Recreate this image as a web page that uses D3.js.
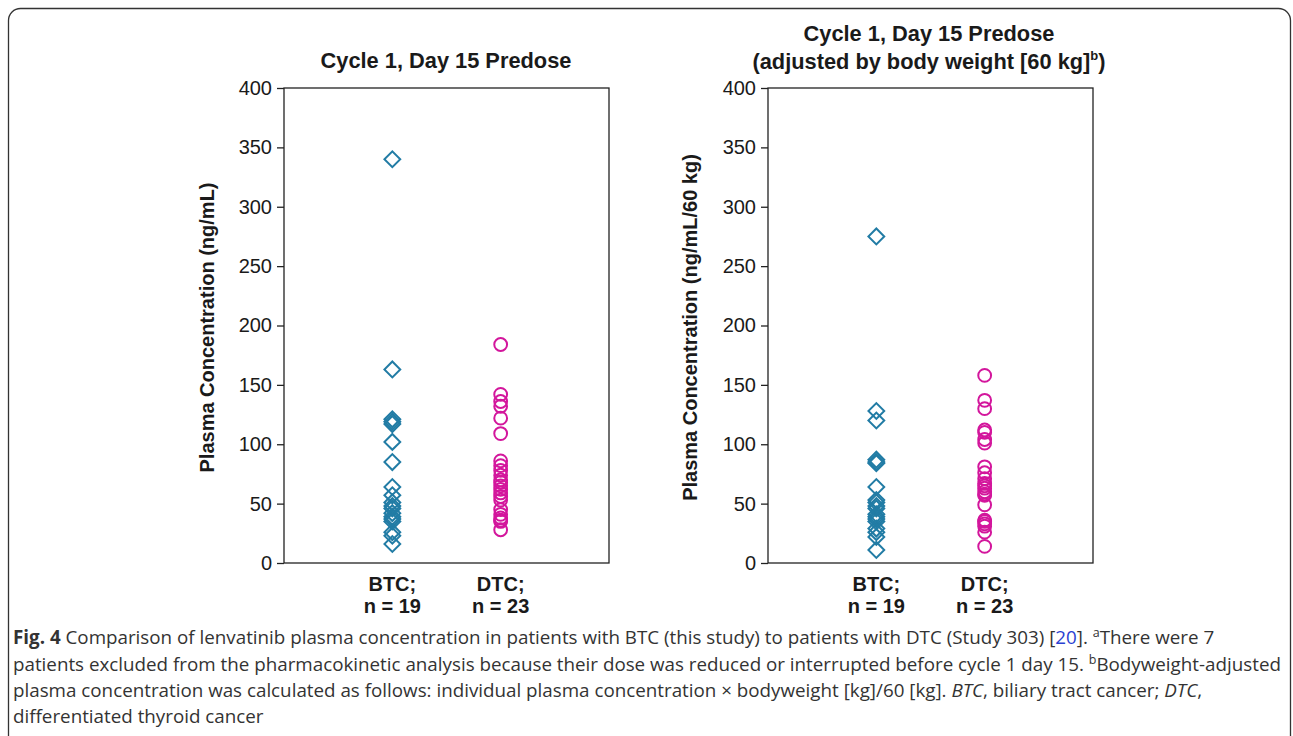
<!DOCTYPE html>
<html><head><meta charset="utf-8">
<script src="https://cdn.jsdelivr.net/npm/d3@7"></script>
<style>
body{margin:0;background:#fff;}
svg{display:block;}
</style></head>
<body>
<svg id="chart" width="1293" height="736"></svg>
<script>
const categories = ["BTC", "DTC"];
const categoryLine1 = ["BTC;", "DTC;"];
const categoryLine2 = ["n = 19", "n = 23"];
const yTicks = [0, 50, 100, 150, 200, 250, 300, 350, 400];

const btcRaw = [340, 163, 121, 119, 117, 102, 85, 64, 57, 51, 48, 46, 42, 39, 37, 35, 26, 23, 16];
const dtcRaw = [184, 142, 136, 132, 122, 109, 86, 82, 78, 74, 70, 68, 65, 62, 59, 56, 53, 45, 41, 38, 36, 35, 28];
const btcAdj = [275, 128, 120, 87, 85, 84, 64, 53, 51, 48, 46, 41, 39, 37, 35, 29, 26, 22, 11];
const dtcAdj = [158, 137, 130, 112, 110, 104, 101, 81, 76, 71, 67, 65, 63, 60, 58, 57, 49, 36, 35, 33, 31, 26, 14];

const titlesLeft = ["Cycle 1, Day 15 Predose"];
const yLabels = ["Plasma Concentration (ng/mL)", "Plasma Concentration (ng/mL/60 kg)"];

const svg = d3.select("#chart");
const blue = "#227ca5", pink = "#d3169c";
const tf = "Liberation Sans, Arial, sans-serif";

// outer rounded border
svg.append("rect").attr("x", 8.5).attr("y", 8.5).attr("width", 1282).attr("height", 760)
  .attr("rx", 12).attr("fill", "none").attr("stroke", "#333").attr("stroke-width", 1.3);

function panel(x0, x1, btc, dtc, ylab, yLabX) {
  const top = 88, bottom = 563;
  const y = d3.scaleLinear().domain([0, 400]).range([bottom, top]);
  const x = d3.scalePoint().domain(categories).range([x0, x1]).padding(1);
  const g = svg.append("g");
  g.append("rect").attr("x", x0).attr("y", top).attr("width", x1 - x0).attr("height", bottom - top)
    .attr("fill", "none").attr("stroke", "#222").attr("stroke-width", 1.3);
  const ax = g.append("g").attr("transform", `translate(${x0},0)`)
    .call(d3.axisLeft(y).tickValues(yTicks).tickSize(7).tickPadding(5).tickFormat(d3.format("d")));
  ax.select(".domain").remove();
  ax.selectAll("line").attr("stroke", "#222").attr("stroke-width", 1.3);
  ax.selectAll("text").attr("font-family", tf)
    .attr("font-size", 20).attr("fill", "#1a1a1a");
  g.append("text").attr("transform", `translate(${yLabX},${(top + bottom) / 2 + 2}) rotate(-90)`)
    .attr("text-anchor", "middle").attr("font-family", tf)
    .attr("font-weight", "bold").attr("font-size", 20).attr("fill", "#1a1a1a").text(ylab);
  categories.forEach((c, i) => {
    const t = g.append("text").attr("text-anchor", "middle")
      .attr("font-family", tf).attr("font-weight", "bold")
      .attr("font-size", 20).attr("fill", "#1a1a1a");
    t.append("tspan").attr("x", x(c)).attr("y", 591).text(categoryLine1[i]);
    t.append("tspan").attr("x", x(c)).attr("y", 613).text(categoryLine2[i]);
  });
  const dsym = d3.symbol().type(d3.symbolSquare).size(125);
  g.selectAll(".d").data(btc).join("path")
    .attr("d", dsym)
    .attr("transform", d => `translate(${x("BTC")},${y(d)}) rotate(45)`)
    .attr("fill", "none").attr("stroke", blue).attr("stroke-width", 2);
  g.selectAll(".c").data(dtc).join("circle")
    .attr("cx", x("DTC")).attr("cy", d => y(d)).attr("r", 6.4)
    .attr("fill", "none").attr("stroke", pink).attr("stroke-width", 2);
}

panel(284, 609, btcRaw, dtcRaw, yLabels[0], 214);
panel(768, 1093, btcAdj, dtcAdj, yLabels[1], 697);

// titles
svg.append("text").attr("x", 446).attr("y", 68).attr("text-anchor", "middle")
  .attr("font-family", tf).attr("font-weight", "bold").attr("font-size", 21.8).attr("fill", "#1a1a1a")
  .text(titlesLeft[0]);
svg.append("text").attr("x", 929).attr("y", 41).attr("text-anchor", "middle")
  .attr("font-family", tf).attr("font-weight", "bold").attr("font-size", 21.8).attr("fill", "#1a1a1a")
  .text("Cycle 1, Day 15 Predose");
const t2 = svg.append("text").attr("x", 929).attr("y", 69).attr("text-anchor", "middle")
  .attr("font-family", tf).attr("font-weight", "bold").attr("font-size", 21.8).attr("fill", "#1a1a1a");
t2.append("tspan").text("(adjusted by body weight [60 kg]");
t2.append("tspan").attr("dy", -9).attr("font-size", 13).text("b");
t2.append("tspan").attr("dy", 9).text(")");

// caption
const cf = "Open Sans, Noto Sans, sans-serif";
const cap = svg.append("g").attr("font-family", cf).attr("font-size", 18.8).attr("fill", "#333");
const l1 = cap.append("text").attr("x", 13).attr("y", 644);
l1.append("tspan").attr("font-weight", "bold").text("Fig. 4");
l1.append("tspan").text(" Comparison of lenvatinib plasma concentration in patients with BTC (this study) to patients with DTC (Study 303) [");
l1.append("tspan").attr("fill", "#2a3fd1").text("20");
l1.append("tspan").text("]. ");
l1.append("tspan").attr("font-size", 12.5).attr("dy", -7).text("a");
l1.append("tspan").attr("dy", 7).text("There were 7");
const l2 = cap.append("text").attr("x", 13).attr("y", 671);
l2.append("tspan").text("patients excluded from the pharmacokinetic analysis because their dose was reduced or interrupted before cycle 1 day 15. ");
l2.append("tspan").attr("font-size", 12.5).attr("dy", -7).text("b");
l2.append("tspan").attr("dy", 7).text("Bodyweight-adjusted");
const l3 = cap.append("text").attr("x", 13).attr("y", 697);
l3.append("tspan").text("plasma concentration was calculated as follows: individual plasma concentration \u00d7 bodyweight [kg]/60 [kg]. ");
l3.append("tspan").attr("font-style", "italic").text("BTC");
l3.append("tspan").text(", biliary tract cancer; ");
l3.append("tspan").attr("font-style", "italic").text("DTC");
l3.append("tspan").text(",");
cap.append("text").attr("x", 13).attr("y", 723).text("differentiated thyroid cancer");
</script>
</body></html>
